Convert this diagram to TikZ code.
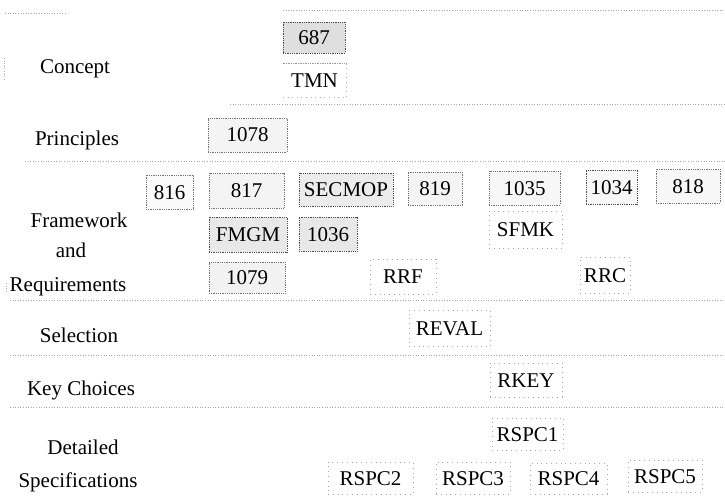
\documentclass[tikz,border=0pt]{standalone}
\usepackage{fontspec}
\setmainfont{Liberation Serif}
\begin{document}
\begin{tikzpicture}[x=1pt,y=-1pt,
  lab/.style={font=\fontsize{21}{24}\selectfont, anchor=base, inner sep=0pt},
  bx/.style={font=\fontsize{21}{24}\selectfont, inner sep=0pt, text height=14pt, text depth=0pt, line width=0.8pt, densely dotted},
  dark/.style={bx, draw=black!70, fill=gray!20},
  mid/.style={bx, draw=black!55, fill=gray!9},
  pale/.style={bx, draw=black!35, fill=white, loosely dotted},
  sep/.style={draw=black!35, line width=0.6pt, dotted}
]
\useasboundingbox (0,0) rectangle (725,500);

% separators
\draw[sep] (283,10) -- (725,10);
\draw[sep] (5,13) -- (65,13);
\draw[sep] (230,104) -- (725,104);
\draw[sep] (25,161) -- (725,161);
\draw[sep] (10,300) -- (725,300);
\draw[sep] (10,355) -- (725,355);
\draw[sep] (10,407) -- (725,407);
\draw[sep] (4,58) -- (4,80);
\draw[sep] (6,283) -- (6,293);

% row labels
\node[lab] (lconcept) at (75,74) {Concept};
\node[lab] (lprinc) at (77,145) {Principles};
\node[lab] (lframe) at (79,227) {Framework};
\node[lab] (land) at (71,257) {and};
\node[lab] (lreq) at (68,291) {Requirements};
\node[lab] (lsel) at (79,342) {Selection};
\node[lab] (lkey) at (81,395) {Key Choices};
\node[lab] (ldet) at (83,454) {Detailed};
\node[lab] (lspec) at (78,487) {Specifications};

% Concept
\node[dark, fill=gray!25, minimum width=62pt, minimum height=31pt] (n687) at (314,37.5) {687};
\node[bx, minimum width=63pt, minimum height=33pt] (tmn) at (314.5,80.5) {TMN};
\draw[black!40, line width=0.7pt, densely dotted] (tmn.north west) -- (tmn.north east);
\draw[black!30, line width=0.6pt, loosely dotted] (tmn.north east) -- (tmn.south east) -- (tmn.south west);

% Principles
\node[mid, minimum width=79pt, minimum height=34pt] (n1078) at (247.5,135) {1078};

% Framework and Requirements
\node[mid, fill=gray!4, minimum width=47pt, minimum height=34pt] (n816) at (169.5,192) {816};
\node[mid, minimum width=75pt, minimum height=35pt] (n817) at (246.5,190.5) {817};
\node[dark, fill=gray!15, minimum width=94pt, minimum height=33pt] (secmop) at (346,189.5) {SECMOP};
\node[mid, minimum width=54pt, minimum height=33pt] (n819) at (435,188.5) {819};
\node[mid, fill=gray!6, minimum width=71pt, minimum height=34pt] (n1035) at (524.5,188) {1035};
\node[dark, fill=gray!6, minimum width=51pt, minimum height=34pt] (n1034) at (611.5,187) {1034};
\node[mid, fill=gray!6, minimum width=64pt, minimum height=34pt] (n818) at (688,186) {818};
\node[dark, fill=gray!18, minimum width=78pt, minimum height=35pt] (fmgm) at (248,234.5) {FMGM};
\node[dark, fill=gray!18, minimum width=58pt, minimum height=34pt] (n1036) at (328,234) {1036};
\node[pale, minimum width=73pt, minimum height=37pt] (sfmk) at (525.5,229.5) {SFMK};
\node[mid, fill=gray!10, minimum width=76pt, minimum height=31pt] (n1079) at (247,277.5) {1079};
\node[pale, minimum width=66pt, minimum height=35pt] (rrf) at (403,276.5) {RRF};
\node[pale, minimum width=50pt, minimum height=36pt] (rrc) at (605,275) {RRC};

% Selection
\node[pale, minimum width=81pt, minimum height=36pt] (reval) at (449.5,328) {REVAL};

% Key Choices
\node[pale, minimum width=72pt, minimum height=34pt] (rkey) at (526,380) {RKEY};

% Detailed Specifications
\node[pale, minimum width=71pt, minimum height=32pt] (rspc1) at (527.5,434) {RSPC1};
\node[pale, minimum width=85pt, minimum height=32pt] (rspc2) at (370.5,478) {RSPC2};
\node[pale, minimum width=74pt, minimum height=32pt] (rspc3) at (473,478) {RSPC3};
\node[pale, minimum width=77pt, minimum height=31pt] (rspc4) at (568.5,478.5) {RSPC4};
\node[pale, minimum width=74pt, minimum height=32pt] (rspc5) at (665,476) {RSPC5};
\end{tikzpicture}
\end{document}
